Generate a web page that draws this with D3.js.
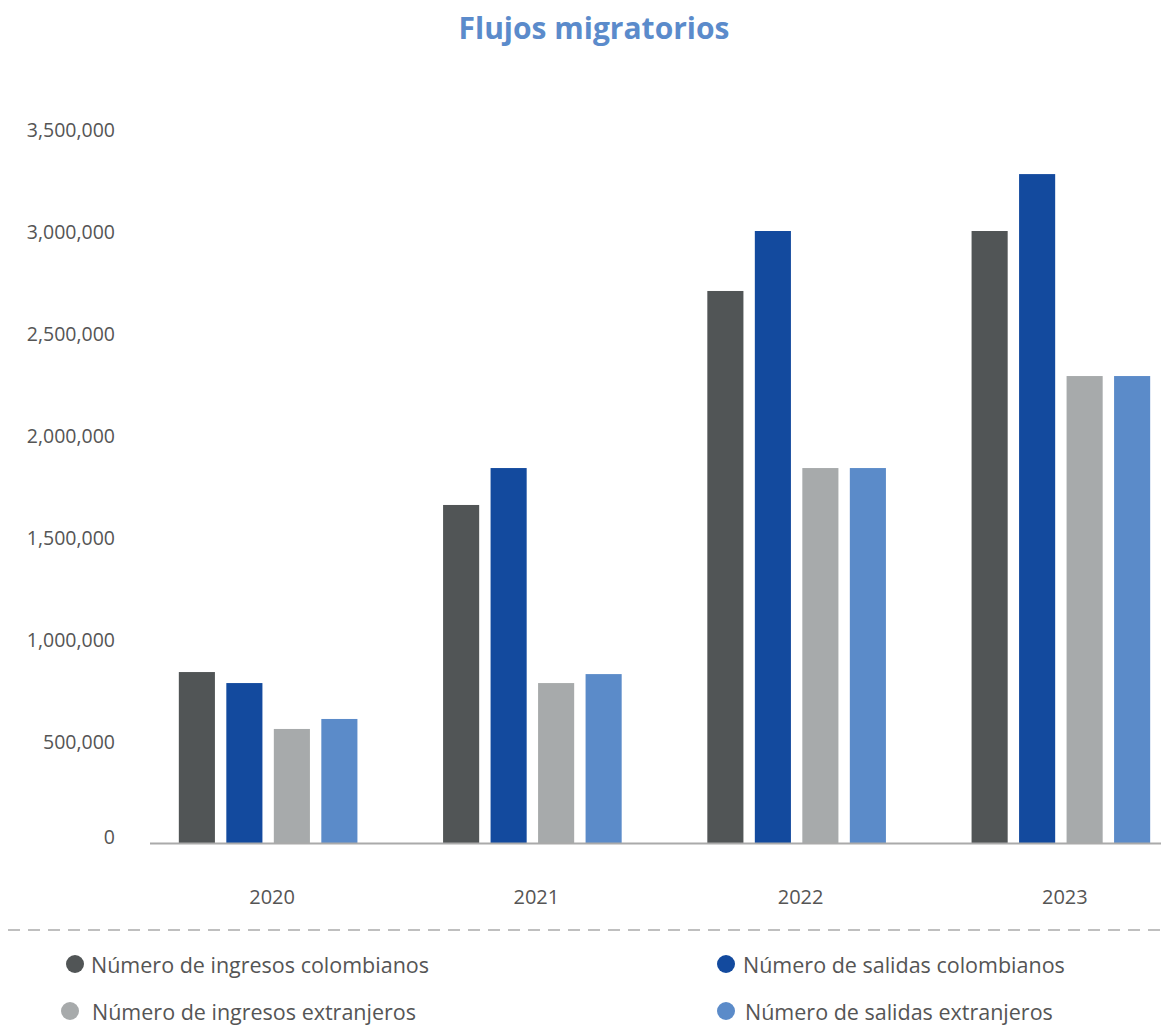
<!DOCTYPE html>
<html><head><meta charset="utf-8">
<script src="https://cdn.jsdelivr.net/npm/d3@7"></script>
<style>
html,body{margin:0;padding:0;background:#fff;}
svg{display:block;font-family:"Open Sans",sans-serif;}
</style></head>
<body>
<svg id="c" width="1161" height="1025"></svg>
<script>
const years = ["2020","2021","2022","2023"];
const seriesNames = ["Número de ingresos colombianos","Número de salidas colombianos","Número de ingresos extranjeros","Número de salidas extranjeros"];
const ingresosColombianos = [838000, 1657000, 2706000, 3000000];
const salidasColombianos  = [784000, 1838000, 3000000, 3279000];
const ingresosExtranjeros = [559000, 784000, 1838000, 2289000];
const salidasExtranjeros  = [608000, 828000, 1838000, 2289000];
const yTicks = [0, 500000, 1000000, 1500000, 2000000, 2500000, 3000000, 3500000];
const colors = ["#515556", "#134a9e", "#a7aaab", "#5b8bc9"];

const series = [ingresosColombianos, salidasColombianos, ingresosExtranjeros, salidasExtranjeros];
const svg = d3.select("#c");

const y = d3.scaleLinear().domain([0, 3500000]).range([843, 129]);
const x0 = d3.scaleBand().domain(years).range([136, 1193]).paddingInner(0).paddingOuter(0);
const groupW = 190;
const x1 = d3.scaleBand().domain(d3.range(4))
  .range([(x0.bandwidth()-groupW)/2, (x0.bandwidth()+groupW)/2])
  .paddingInner(0.24).paddingOuter(0.12);

// title
svg.append("text").attr("x", 594).attr("y", 39).attr("text-anchor","middle")
  .attr("font-size", 30).attr("font-weight", 700).attr("fill", "#5b8bcb").text("Flujos migratorios");

// y tick labels
const fmt = d3.format(",");
svg.append("g").selectAll("text").data(yTicks).join("text")
  .attr("x", 115).attr("y", d => y(d) + 1 - (d === 0 ? 7 : 0)).attr("dy", "0.35em")
  .attr("text-anchor", "end").attr("font-size", 19.5).attr("fill", "#555")
  .text(d => fmt(d));

// bars
const g = svg.append("g");
years.forEach((yr, i) => {
  g.append("g").attr("transform", `translate(${x0(yr)},0)`)
    .selectAll("rect").data(series.map((s, k) => ({k, v: s[i]}))).join("rect")
    .attr("x", d => x1(d.k)).attr("width", x1.bandwidth())
    .attr("y", d => y(d.v)).attr("height", d => y(0) - y(d.v))
    .attr("fill", d => colors[d.k]);
});

// x axis line
svg.append("line").attr("x1", 150).attr("x2", 1161).attr("y1", y(0)+0.5).attr("y2", y(0)+0.5)
  .attr("stroke", "#aaa").attr("stroke-width", 2);

// x labels
svg.append("g").selectAll("text").data(years).join("text")
  .attr("x", d => x0(d) + x0.bandwidth()/2 + 4).attr("y", 904)
  .attr("text-anchor","middle").attr("font-size", 20).attr("fill", "#555").text(d => d);

// dashed separator
svg.append("line").attr("x1", 8).attr("x2", 1161).attr("y1", 930).attr("y2", 930)
  .attr("stroke", "#aaa").attr("stroke-width", 1.5).attr("stroke-dasharray", "12,8");

// legend
const legPos = [[75, 964, 91], [726, 964, 743], [70, 1011, 92], [726, 1011, 745]];
const leg = svg.append("g").selectAll("g").data(seriesNames).join("g");
leg.append("circle").attr("cx", (d,i) => legPos[i][0]).attr("cy", (d,i) => legPos[i][1])
  .attr("r", 9).attr("fill", (d,i) => colors[i]);
leg.append("text").attr("x", (d,i) => legPos[i][2]).attr("y", (d,i) => legPos[i][1] + 9)
  .attr("font-size", 21.5).attr("fill", "#555").text(d => d);
</script>
</body></html>
